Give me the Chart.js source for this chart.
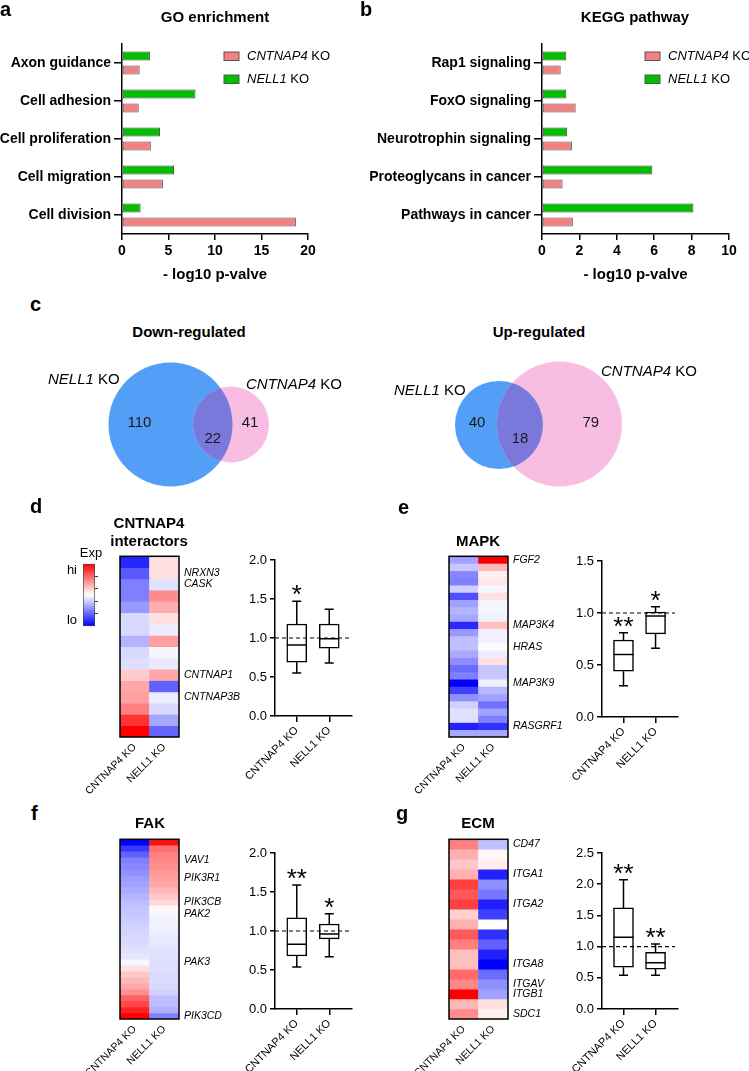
<!DOCTYPE html>
<html>
<head>
<meta charset="utf-8">
<script src="https://cdn.jsdelivr.net/npm/chart.js@4.4.1/dist/chart.umd.min.js"></script>
<style>
  body { margin: 0; background: #fff; }
  #fig { position: relative; width: 749px; height: 1071px; overflow: hidden; background: #fff;
         font-family: "Liberation Sans", Arial, sans-serif; color: #000; }
  #fig canvas { position: absolute; }
  .t { position: absolute; white-space: nowrap; line-height: 1; }
  .let { font-weight: bold; font-size: 20px; }
  .ttl { font-weight: bold; font-size: 15px; }
  .vl { font-size: 15px; }
  .sm { font-size: 13px; }
</style>
</head>
<body>
<div id="fig"></div>
<script>
// ---- data ----
// a: GO enrichment (-log10 p)
const goTerms = ['Axon guidance', 'Cell adhesion', 'Cell proliferation', 'Cell migration', 'Cell division'];
const goCntnap4 = [1.9, 1.8, 3.1, 4.4, 18.7];
const goNell1 = [3.0, 7.9, 4.1, 5.6, 2.0];
// b: KEGG pathway
const keggTerms = ['Rap1 signaling', 'FoxO signaling', 'Neurotrophin signaling', 'Proteoglycans in cancer', 'Pathways in cancer'];
const keggCntnap4 = [1.0, 1.8, 1.6, 1.1, 1.65];
const keggNell1 = [1.3, 1.3, 1.35, 5.9, 8.1];
// c: venn counts  [NELL1 only, shared, CNTNAP4 only]
const downCounts = [110, 22, 41];
const upCounts = [40, 18, 79];

const koLabels = ['CNTNAP4 KO', 'NELL1 KO'];

// heatmaps: scaled expression, -1 (lo) .. 1 (hi), one value per row
const dCntnap4 = [-0.85, -0.65, -0.5, -0.5, -0.4, -0.15, -0.15, -0.3, -0.15, -0.13, 0.2, 0.35, 0.37, 0.5, 0.8, 1.0];
const dNell1 = [0.13, 0.13, -0.12, 0.45, 0.32, 0.12, -0.08, 0.38, -0.04, -0.09, 0.35, -0.62, -0.07, -0.15, -0.35, -0.6];
const dGeneRows = [1, 2, 10, 12];
const dGenes = ['NRXN3', 'CASK', 'CNTNAP1', 'CNTNAP3B'];

const eCntnap4 = [-0.37, -0.22, -0.47, -0.5, -0.18, -0.69, -0.37, -0.29, -0.34, -0.84, -0.4, -0.25, -0.25, -0.34, -0.45,
                  -0.58, -0.5, -1.0, -0.75, -0.44, -0.18, -0.12, -0.12, -0.87, -0.34];
const eNell1 = [1.0, 0.28, 0.06, 0.09, -0.03, 0.12, -0.04, -0.04, -0.06, 0.25, -0.06, -0.06, -0.01, -0.07, 0.12,
                -0.22, -0.22, -0.06, -0.28, -0.37, -0.56, -0.37, -0.5, -0.81, -0.34];
const eGeneRows = [0, 9, 12, 17, 23];
const eGenes = ['FGF2', 'MAP3K4', 'HRAS', 'MAP3K9', 'RASGRF1'];

const fCntnap4 = [-1.0, -0.78, -0.62, -0.5, -0.47, -0.44, -0.39, -0.36, -0.33, -0.29, -0.26, -0.23, -0.22, -0.2, -0.18,
                  -0.17, -0.15, -0.14, -0.12, -0.1, -0.03, 0.12, 0.22, 0.28, 0.34, 0.44, 0.62, 0.72, 0.87, 1.0];
const fNell1 = [0.94, 0.56, 0.5, 0.47, 0.44, 0.4, 0.37, 0.34, 0.28, 0.22, 0.15, 0.03, -0.04, -0.06, -0.06,
                -0.07, -0.09, -0.1, -0.12, -0.12, -0.13, -0.13, -0.14, -0.14, -0.15, -0.18, -0.25, -0.26, -0.31, -0.5];
const fGeneRows = [3, 6, 10, 12, 20, 29];
const fGenes = ['VAV1', 'PIK3R1', 'PIK3CB', 'PAK2', 'PAK3', 'PIK3CD'];

const gCntnap4 = [0.5, 0.31, 0.22, 0.31, 0.75, 0.65, 0.75, 0.18, 0.31, 0.65, 0.5, 0.25, 0.25, 0.58, 0.47, 1.0, 0.28, 0.45];
const gNell1 = [-0.25, 0.03, 0.07, -0.87, -0.44, -0.53, -0.87, -0.75, 0.0, -0.81, -0.62, -0.87, -1.0, -0.58, -0.44, -0.37, 0.12, 0.06];
const gGeneRows = [0, 3, 6, 12, 14, 15, 17];
const gGenes = ['CD47', 'ITGA1', 'ITGA2', 'ITGA8', 'ITGAV', 'ITGB1', 'SDC1'];

// box plots (relative expression): per group CNTNAP4 KO, NELL1 KO
const dBox = { min: [0.55, 0.68], q1: [0.69, 0.87], med: [0.91, 0.99], q3: [1.18, 1.18], max: [1.47, 1.37], stars: ['*', ''] };
const eBox = { min: [0.30, 0.66], q1: [0.44, 0.80], med: [0.60, 0.97], q3: [0.74, 1.01], max: [0.81, 1.06], stars: ['**', '*'] };
const fBox = { min: [0.54, 0.67], q1: [0.68, 0.90], med: [0.83, 0.96], q3: [1.17, 1.09], max: [1.59, 1.22], stars: ['**', '*'] };
const gBox = { min: [0.54, 0.54], q1: [0.67, 0.64], med: [1.15, 0.74], q3: [1.62, 0.91], max: [2.07, 1.04], stars: ['**', '**'] };

// ---- helpers ----
Chart.defaults.font.family = '"Liberation Sans", Arial, sans-serif';
Chart.defaults.color = '#000';
const fig = document.getElementById('fig');
const PINK = '#f28282', GREEN = '#00bf00';

function place(left, top, w, h) {
  const c = document.createElement('canvas');
  c.width = w; c.height = h;
  c.style.left = left + 'px'; c.style.top = top + 'px';
  fig.appendChild(c);
  return c;
}

function label(html, x, y, cls, anchor) {
  const d = document.createElement('div');
  d.className = 't ' + cls;
  d.innerHTML = html;
  d.style.left = x + 'px'; d.style.top = y + 'px';
  d.style.transform = anchor === 'left' ? 'translate(0,-50%)' : 'translate(-50%,-50%)';
  fig.appendChild(d);
}

function heat(v) {
  const c = Math.round(255 * (1 - Math.min(1, Math.abs(v))));
  return v >= 0 ? `rgb(255,${c},${c})` : `rgb(${c},${c},255)`;
}

// legend with italic gene name
function koLegend(x, y, gap) {
  return {
    id: 'koLegend',
    afterDraw(chart) {
      const ctx = chart.ctx;
      [1, 0].forEach((di, k) => {
        const ds = chart.data.datasets[di];
        const yy = y + k * gap;
        ctx.save();
        ctx.fillStyle = ds.backgroundColor; ctx.strokeStyle = '#555'; ctx.lineWidth = 1;
        ctx.fillRect(x, yy - 4, 15, 8.5); ctx.strokeRect(x, yy - 4, 15, 8.5);
        const parts = ds.label.split(' ');
        ctx.fillStyle = '#000'; ctx.textBaseline = 'middle';
        ctx.font = 'italic 13px "Liberation Sans"';
        ctx.fillText(parts[0], x + 23, yy);
        const w = ctx.measureText(parts[0]).width;
        ctx.font = '13px "Liberation Sans"';
        ctx.fillText(' ' + parts[1], x + 23 + w, yy);
        ctx.restore();
      });
    }
  };
}

function enrichChart(canvas, terms, cnt, nell, xMax, step, yW, padR, leg) {
  return new Chart(canvas, {
    type: 'bar',
    data: {
      labels: terms,
      datasets: [
        { label: 'NELL1 KO', data: nell, backgroundColor: GREEN, borderColor: '#444', borderWidth: 1, borderSkipped: false },
        { label: 'CNTNAP4 KO', data: cnt, backgroundColor: PINK, borderColor: '#555', borderWidth: 1, borderSkipped: false }
      ]
    },
    options: {
      indexAxis: 'y', responsive: false, animation: false,
      categoryPercentage: 0.74, barPercentage: 0.64,
      layout: { padding: { top: 44, right: padR, left: 0, bottom: 0 } },
      plugins: { legend: { display: false }, tooltip: { enabled: false } },
      scales: {
        x: {
          min: 0, max: xMax,
          ticks: { stepSize: step, font: { size: 14, weight: 'bold' }, padding: 3 },
          grid: { drawOnChartArea: false, tickLength: 6, color: '#000', lineWidth: 1.5 },
          border: { color: '#000', width: 1.5 },
          title: { display: true, text: '- log10 p-valve', font: { size: 15, weight: 'bold' }, padding: { top: 0, bottom: 6 } },
          afterFit: s => { s.height = 56; }
        },
        y: {
          ticks: { font: { size: 14, weight: 'bold' }, padding: 3, autoSkip: false },
          grid: { offset: false, drawOnChartArea: false, tickLength: 8, color: '#000', lineWidth: 1.5 },
          border: { color: '#000', width: 1.5 },
          afterFit: s => { s.width = yW; }
        }
      }
    },
    plugins: [koLegend(leg[0], leg[1], 23)]
  });
}

// venn: each set is a circle {x, y, r} in the chart's own units, drawn through the scales
function vennPlugin(counts) {
  return {
    id: 'venn',
    beforeDatasetsDraw(chart) {
      const ctx = chart.ctx, xs = chart.scales.x, ys = chart.scales.y;
      const [L, R] = chart.data.datasets.map(ds => {
        const p = ds.data[0];
        return {
          x: xs.getPixelForValue(p.x), y: ys.getPixelForValue(p.y),
          r: xs.getPixelForValue(p.x + p.r) - xs.getPixelForValue(p.x), color: ds.backgroundColor
        };
      });
      ctx.save();
      [L, R].forEach(c => {
        ctx.beginPath(); ctx.arc(c.x, c.y, c.r, 0, Math.PI * 2);
        ctx.fillStyle = c.color; ctx.fill();
      });
      ctx.beginPath(); ctx.arc(L.x, L.y, L.r, 0, Math.PI * 2); ctx.clip();
      ctx.beginPath(); ctx.arc(R.x, R.y, R.r, 0, Math.PI * 2);
      ctx.fillStyle = '#7b78dc'; ctx.fill();
      ctx.restore();
      ctx.save();
      ctx.font = '15px "Liberation Sans"'; ctx.fillStyle = '#1a1a1a';
      ctx.textAlign = 'center'; ctx.textBaseline = 'middle';
      ctx.fillText(counts[0], L.x - L.r / 2, L.y - 2);
      ctx.fillText(counts[1], ((R.x - R.r) + (L.x + L.r)) / 2, L.y + 14);
      ctx.fillText(counts[2], R.x + R.r / 2, L.y - 2);
      ctx.restore();
    }
  };
}

function vennChart(canvas, counts, circles) {
  return new Chart(canvas, {
    type: 'scatter',
    data: {
      datasets: [
        { label: 'NELL1 KO', data: [circles[0]], backgroundColor: '#539ff7', pointRadius: 0, pointBorderWidth: 0 },
        { label: 'CNTNAP4 KO', data: [circles[1]], backgroundColor: '#f8bde2', pointRadius: 0, pointBorderWidth: 0 }
      ]
    },
    options: {
      responsive: false, animation: false,
      layout: { padding: 0 },
      plugins: { legend: { display: false }, tooltip: { enabled: false } },
      scales: {
        x: { display: false, min: 0, max: canvas.width },
        y: { display: false, min: 0, max: canvas.height, reverse: true }
      }
    },
    plugins: [vennPlugin(counts)]
  });
}

const frame = {
  id: 'frame',
  afterDatasetsDraw(chart) {
    const a = chart.chartArea, c = chart.ctx;
    c.save(); c.lineWidth = 1.5; c.strokeStyle = '#000';
    c.strokeRect(a.left, a.top, a.right - a.left, a.bottom - a.top);
    c.restore();
  }
};

function heatmap(canvas, colA, colB, geneRows, genes, padTop, xh) {
  const n = colA.length;
  const datasets = colA.map((v, i) => ({
    data: [1, 1],
    backgroundColor: [heat(colA[i]), heat(colB[i])],
    borderWidth: 0, barPercentage: 1, categoryPercentage: 1
  }));
  return new Chart(canvas, {
    type: 'bar',
    data: { labels: koLabels, datasets },
    options: {
      responsive: false, animation: false,
      layout: { padding: { left: 60, top: padTop, right: 0, bottom: 0 } },
      plugins: { legend: { display: false }, tooltip: { enabled: false } },
      scales: {
        x: {
          stacked: true,
          grid: { display: false, drawTicks: false }, border: { display: false },
          ticks: { minRotation: 45, maxRotation: 45, padding: 4, font: { size: 10.5 } },
          afterFit: s => { s.height = xh; }
        },
        y: { stacked: true, display: false, min: 0, max: n, reverse: true },
        g: {
          type: 'linear', position: 'right', min: 0, max: n, reverse: true,
          grid: { display: false, drawTicks: false }, border: { display: false },
          afterBuildTicks: s => { s.ticks = geneRows.map(r => ({ value: r + 0.5 })); },
          ticks: { autoSkip: false, padding: 5, font: { size: 10.5, style: 'italic' }, callback: (v, i) => genes[i] },
          afterFit: s => { s.width = 81; }
        }
      }
    },
    plugins: [frame]
  });
}

function whiskers(st) {
  return {
    id: 'whiskers',
    afterDatasetsDraw(chart) {
      const ctx = chart.ctx, y = chart.scales.y, area = chart.chartArea;
      const bars = chart.getDatasetMeta(0).data;
      ctx.save();
      ctx.strokeStyle = '#000'; ctx.lineWidth = 1.5;
      bars.forEach((bar, i) => {
        const hw = bar.width / 2, cap = hw * 0.45;
        const pMax = y.getPixelForValue(st.max[i]), pMin = y.getPixelForValue(st.min[i]);
        const pMed = y.getPixelForValue(st.med[i]);
        ctx.beginPath();
        ctx.moveTo(bar.x, y.getPixelForValue(st.q3[i])); ctx.lineTo(bar.x, pMax);
        ctx.moveTo(bar.x - cap, pMax); ctx.lineTo(bar.x + cap, pMax);
        ctx.moveTo(bar.x, y.getPixelForValue(st.q1[i])); ctx.lineTo(bar.x, pMin);
        ctx.moveTo(bar.x - cap, pMin); ctx.lineTo(bar.x + cap, pMin);
        ctx.moveTo(bar.x - hw, pMed); ctx.lineTo(bar.x + hw, pMed);
        ctx.stroke();
        ctx.font = '26px "Liberation Sans"'; ctx.fillStyle = '#000';
        ctx.textAlign = 'center'; ctx.textBaseline = 'alphabetic';
        ctx.fillText(st.stars[i], bar.x, pMax + 2);
      });
      // reference line at 1.0
      const p1 = y.getPixelForValue(1);
      ctx.setLineDash([4, 3]); ctx.lineWidth = 1.2;
      ctx.beginPath(); ctx.moveTo(area.left, p1); ctx.lineTo(area.right - 3, p1); ctx.stroke();
      ctx.restore();
    }
  };
}

function boxplot(canvas, st, yMax, padTop, padR, xh) {
  return new Chart(canvas, {
    type: 'bar',
    data: {
      datasets: [{
        data: st.q1.map((q, i) => ({ x: i, y: [q, st.q3[i]] })),
        backgroundColor: '#fff', borderColor: '#000', borderWidth: 1.5, borderSkipped: false, barThickness: 20
      }]
    },
    options: {
      responsive: false, animation: false,
      layout: { padding: { top: padTop, right: padR, left: 0, bottom: 0 } },
      plugins: { legend: { display: false }, tooltip: { enabled: false } },
      scales: {
        x: {
          type: 'linear', min: -0.67, max: 1.7, offset: false,
          grid: { offset: false, drawOnChartArea: false, tickLength: 6, color: '#000', lineWidth: 1.5 },
          border: { color: '#000', width: 1.5 },
          afterBuildTicks: s => { s.ticks = koLabels.map((_, i) => ({ value: i })); },
          ticks: { autoSkip: false, minRotation: 45, maxRotation: 45, padding: 2, font: { size: 11 }, callback: (v, i) => koLabels[i] },
          afterFit: s => { s.height = xh; }
        },
        y: {
          min: 0, max: yMax,
          ticks: { stepSize: 0.5, padding: 3, font: { size: 13 }, callback: v => v.toFixed(1) },
          grid: { drawOnChartArea: false, tickLength: 5, color: '#000', lineWidth: 1.5 },
          border: { color: '#000', width: 1.5 },
          afterFit: s => { s.width = 55; }
        }
      }
    },
    plugins: [whiskers(st)]
  });
}

// ---- panels a, b ----
enrichChart(place(0, 0, 375, 290), goTerms, goCntnap4, goNell1, 20, 5, 122, 67, [224, 56]);
enrichChart(place(360, 0, 389, 290), keggTerms, keggCntnap4, keggNell1, 10, 2, 182, 20, [285, 56]);

// ---- panel c ----
vennChart(place(0, 340, 375, 170), downCounts, [{ x: 170.5, y: 84.5, r: 62 }, { x: 231, y: 84.5, r: 38 }]);
vennChart(place(375, 340, 374, 170), upCounts, [{ x: 124, y: 85, r: 44 }, { x: 184.5, y: 84, r: 62.5 }]);

// ---- heatmaps d-g ----
heatmap(place(60, 545, 200, 260), dCntnap4, dNell1, dGeneRows, dGenes, 9, 68);
heatmap(place(389, 545, 200, 260), eCntnap4, eNell1, eGeneRows, eGenes, 8, 68);
heatmap(place(60, 828, 200, 243), fCntnap4, fNell1, fGeneRows, fGenes, 8, 52);
heatmap(place(389, 828, 200, 243), gCntnap4, gNell1, gGeneRows, gGenes, 8, 52);

// colour key of d
new Chart(place(40, 550, 70, 90), {
  type: 'bar',
  data: {
    labels: [''],
    datasets: [{
      data: [[-1, 1]],
      backgroundColor: c => {
        const ca = c.chart.chartArea;
        if (!ca) return '#fff';
        const g = c.chart.ctx.createLinearGradient(0, ca.top, 0, ca.bottom);
        g.addColorStop(0, '#ff0000'); g.addColorStop(0.5, '#ffffff'); g.addColorStop(1, '#0000ff');
        return g;
      },
      borderColor: '#444', borderWidth: 1, borderSkipped: false, barPercentage: 1, categoryPercentage: 1
    }]
  },
  options: {
    responsive: false, animation: false,
    layout: { padding: { top: 10, bottom: 10, left: 0, right: 0 } },
    plugins: { legend: { display: false }, tooltip: { enabled: false } },
    scales: {
      x: { display: false },
      y: {
        min: -1, max: 1,
        afterBuildTicks: s => { s.ticks = [{ value: 0.8 }, { value: -0.8 }]; },
        ticks: { font: { size: 13 }, padding: 6, callback: v => (v > 0 ? 'hi' : 'lo') },
        grid: { display: false, drawTicks: false }, border: { display: false },
        afterFit: s => { s.width = 43; }
      },
      r: {
        position: 'right', min: -1, max: 1,
        afterBuildTicks: s => { s.ticks = [{ value: 0.6 }, { value: 0.2 }, { value: -0.2 }, { value: -0.6 }]; },
        ticks: { display: false },
        grid: { drawOnChartArea: false, tickLength: 3, color: '#333' }, border: { display: false },
        afterFit: s => { s.width = 15; }
      }
    }
  }
});

// ---- box plots ----
boxplot(place(220, 545, 150, 260), dBox, 2.0, 15, 18, 89);
boxplot(place(547, 545, 150, 260), eBox, 1.5, 16, 19, 88);
boxplot(place(220, 828, 150, 243), fBox, 2.0, 25, 18, 62);
boxplot(place(547, 828, 150, 243), gBox, 2.5, 25, 19, 62);

// ---- text ----
label('a', 0, 9, 'let', 'left');
label('b', 360, 9, 'let', 'left');
label('c', 30, 304, 'let', 'left');
label('d', 30, 506, 'let', 'left');
label('e', 398, 507, 'let', 'left');
label('f', 31, 813, 'let', 'left');
label('g', 396, 813, 'let', 'left');

label('GO enrichment', 215, 16, 'ttl');
label('KEGG pathway', 635, 16, 'ttl');
label('Down-regulated', 189, 331, 'ttl');
label('Up-regulated', 539, 331, 'ttl');
label('CNTNAP4', 149, 522, 'ttl');
label('interactors', 149, 540, 'ttl');
label('MAPK', 478, 540, 'ttl');
label('FAK', 150, 822, 'ttl');
label('ECM', 478, 822, 'ttl');

label('<i>NELL1</i> KO', 48, 378, 'vl', 'left');
label('<i>CNTNAP4</i> KO', 246, 383, 'vl', 'left');
label('<i>NELL1</i> KO', 394, 389, 'vl', 'left');
label('<i>CNTNAP4</i> KO', 601, 370, 'vl', 'left');
label('Exp', 91, 552, 'sm');
</script>
</body>
</html>
